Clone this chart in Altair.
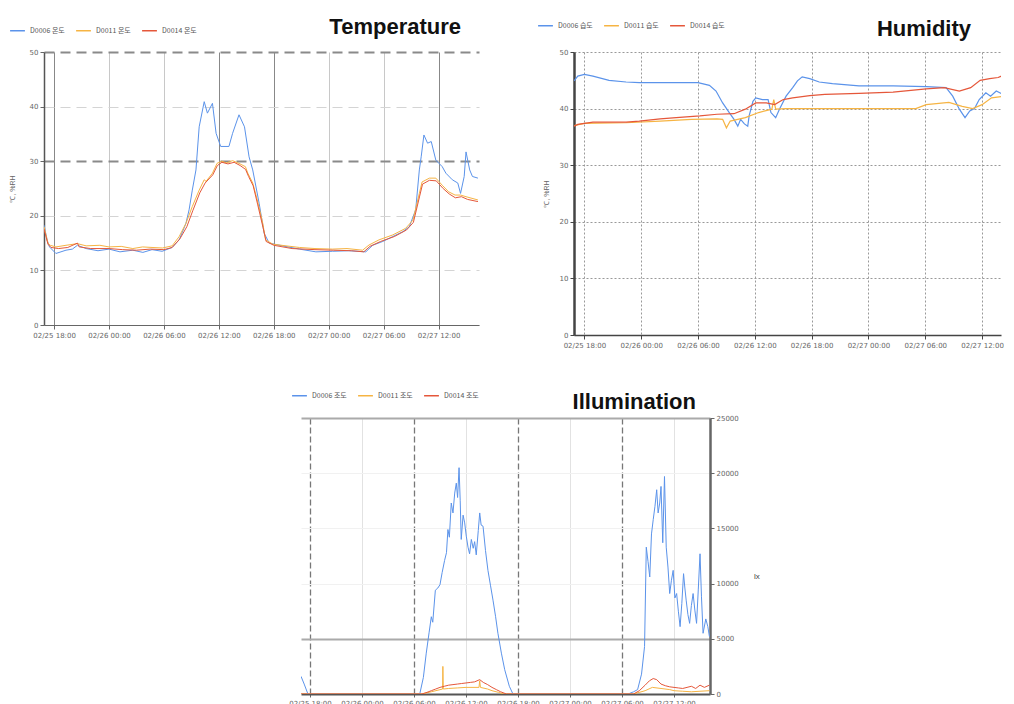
import altair as alt
import pandas as pd

YEAR = 2020

# ---------------- Temperature (°C) ----------------
TEMP_NAMES = ["D0006 온도", "D0011 온도", "D0014 온도"]
TEMP_D0006 = [("02-25 16:54",18.3),("02-25 17:15",15.5),("02-25 17:30",14.3),("02-25 18:12",13.1),("02-25 19:18",13.7),
    ("02-25 20:00",13.9),("02-25 20:33",14.6),("02-25 21:30",14.0),("02-25 22:48",13.6),("02-26 00:00",13.9),
    ("02-26 01:12",13.4),("02-26 02:36",13.7),("02-26 03:42",13.3),("02-26 04:42",13.8),("02-26 05:48",13.5),
    ("02-26 06:54",14.2),("02-26 07:40",15.6),("02-26 08:24",18.6),("02-26 08:45",21.1),("02-26 09:06",24.7),
    ("02-26 09:30",28.4),("02-26 09:51",36.3),("02-26 10:24",40.9),("02-26 10:45",38.8),("02-26 11:18",40.6),
    ("02-26 11:42",35.1),("02-26 12:12",32.7),("02-26 13:06",32.7),("02-26 13:30",35.1),("02-26 14:12",38.5),
    ("02-26 14:48",36.3),("02-26 15:18",30.8),("02-26 15:42",28.4),("02-26 16:24",22.3),("02-26 16:57",16.8),
    ("02-26 17:30",15.0),("02-26 18:57",14.5),("02-26 20:48",13.9),("02-26 22:36",13.4),("02-27 00:24",13.5),
    ("02-27 02:12",13.6),("02-27 04:03",13.4),("02-27 04:48",14.6),("02-27 05:54",15.3),("02-27 07:00",16.2),
    ("02-27 08:06",17.1),("02-27 08:48",18.0),("02-27 09:30",21.1),("02-27 09:54",28.4),("02-27 10:06",30.8),
    ("02-27 10:24",34.8),("02-27 10:48",33.3),("02-27 11:12",33.6),("02-27 11:42",30.2),("02-27 12:24",29.0),
    ("02-27 12:48",27.8),("02-27 13:30",26.6),("02-27 14:06",26.0),("02-27 14:24",24.1),("02-27 14:48",27.2),
    ("02-27 15:00",31.7),("02-27 15:24",28.4),("02-27 15:42",27.2),("02-27 16:18",26.9)]
TEMP_D0011 = [("02-25 16:54",18.0),("02-25 17:20",15.0),("02-25 17:35",14.6),("02-25 18:12",14.3),("02-25 19:18",14.6),
    ("02-25 20:33",14.9),("02-25 21:30",14.5),("02-25 23:00",14.6),("02-26 00:00",14.3),("02-26 01:20",14.4),
    ("02-26 02:36",14.0),("02-26 03:40",14.3),("02-26 04:42",14.2),("02-26 05:50",14.1),("02-26 06:54",14.5),
    ("02-26 07:40",16.2),("02-26 08:24",18.6),("02-26 09:06",21.7),("02-26 09:51",24.7),("02-26 10:24",26.6),
    ("02-26 10:36",26.3),("02-26 11:18",27.8),("02-26 11:48",29.6),("02-26 12:18",30.0),("02-26 12:50",29.7),
    ("02-26 13:30",30.1),("02-26 14:12",29.6),("02-26 14:54",29.0),("02-26 15:10",27.8),("02-26 15:42",26.0),
    ("02-26 16:12",22.9),("02-26 16:48",18.6),("02-26 17:06",15.6),("02-26 17:54",14.8),("02-26 19:20",14.5),
    ("02-26 20:48",14.2),("02-26 22:30",14.0),("02-27 00:24",13.9),("02-27 02:00",14.0),("02-27 03:42",13.7),
    ("02-27 04:24",14.65),("02-27 05:30",15.6),("02-27 07:00",16.5),("02-27 08:24",17.7),("02-27 09:12",19.2),
    ("02-27 09:54",24.1),("02-27 10:12",26.2),("02-27 11:00",26.9),("02-27 11:42",26.9),("02-27 12:24",25.6),
    ("02-27 13:06",24.4),("02-27 13:48",23.8),("02-27 14:24",23.8),("02-27 15:00",23.5),("02-27 16:18",22.9)]
TEMP_D0014 = [("02-25 16:54",17.6),("02-25 17:20",14.8),("02-25 17:40",14.2),("02-25 18:30",14.0),("02-25 19:30",14.2),
    ("02-25 20:33",15.0),("02-25 20:45",14.3),("02-25 22:00",14.0),("02-26 00:00",14.0),("02-26 01:30",13.8),
    ("02-26 03:00",13.7),("02-26 04:30",13.9),("02-26 06:00",13.8),("02-26 06:54",14.2),("02-26 07:45",15.8),
    ("02-26 08:30",18.0),("02-26 09:10",21.0),("02-26 09:55",24.2),("02-26 10:30",26.0),("02-26 11:20",27.5),
    ("02-26 11:50",29.2),("02-26 12:20",29.8),("02-26 13:00",29.5),("02-26 13:40",29.8),("02-26 14:20",29.2),
    ("02-26 14:55",28.5),("02-26 15:15",27.2),("02-26 15:45",25.5),("02-26 16:15",22.0),("02-26 16:50",17.8),
    ("02-26 17:10",15.3),("02-26 18:00",14.6),("02-26 20:00",14.0),("02-26 22:30",13.8),("02-27 00:30",13.7),
    ("02-27 02:30",13.6),("02-27 03:50",13.4),("02-27 04:30",14.4),("02-27 05:40",15.3),("02-27 07:10",16.2),
    ("02-27 08:30",17.4),("02-27 09:15",18.8),("02-27 09:56",23.6),("02-27 10:15",25.8),("02-27 11:00",26.5),
    ("02-27 11:45",26.4),("02-27 12:30",25.0),("02-27 13:10",24.0),("02-27 13:50",23.3),("02-27 14:30",23.5),
    ("02-27 15:10",23.0),("02-27 16:18",22.6)]

# ---------------- Humidity (%) ----------------
HUM_NAMES = ["D0006 습도", "D0011 습도", "D0014 습도"]
HUM_D0006 = [("02-25 16:54",44.9),("02-25 17:18",45.75),("02-25 18:00",46.05),("02-25 18:54",45.75),("02-25 20:36",45.0),
    ("02-25 22:24",44.7),("02-25 23:48",44.6),("02-26 02:00",44.6),("02-26 06:00",44.6),("02-26 07:12",44.1),
    ("02-26 07:54",43.1),("02-26 08:36",41.0),("02-26 09:18",39.3),("02-26 09:48",38.1),("02-26 10:12",36.9),
    ("02-26 10:30",38.1),("02-26 10:54",37.3),("02-26 11:15",36.9),("02-26 11:24",38.7),("02-26 11:48",41.3),
    ("02-26 12:06",41.9),("02-26 12:48",41.6),("02-26 13:24",41.6),("02-26 13:42",39.3),("02-26 14:12",38.4),
    ("02-26 14:36",39.9),("02-26 15:18",42.2),("02-26 16:00",43.7),("02-26 16:30",44.9),("02-26 17:00",45.6),
    ("02-26 17:48",45.3),("02-26 18:48",44.7),("02-26 20:12",44.4),("02-26 23:00",44.0),("02-27 02:36",44.0),
    ("02-27 06:06",43.9),("02-27 08:12",43.7),("02-27 08:54",42.2),("02-27 09:36",39.9),("02-27 10:12",38.4),
    ("02-27 10:42",39.6),("02-27 11:12",40.0),("02-27 11:42",41.6),("02-27 12:24",42.8),("02-27 12:54",42.2),
    ("02-27 13:30",43.1),("02-27 14:06",42.6),("02-27 14:42",39.9)]
HUM_D0011 = [("02-25 16:54",37.0),("02-25 18:00",37.4),("02-25 22:24",37.5),("02-26 02:00",37.8),("02-26 05:18",38.1),
    ("02-26 08:00",38.2),("02-26 08:36",38.1),("02-26 09:00",36.6),("02-26 09:24",37.8),("02-26 11:00",38.4),
    ("02-26 12:24",39.3),("02-26 13:48",39.9),("02-26 14:00",41.6),("02-26 14:12",39.9),("02-26 15:18",40.0),
    ("02-27 05:00",40.0),("02-27 06:06",40.7),("02-27 08:30",41.1),("02-27 09:54",40.4),("02-27 11:00",40.0),
    ("02-27 12:00",40.7),("02-27 13:00",41.9),("02-27 14:24",42.2)]
HUM_D0014 = [("02-25 16:54",36.9),("02-25 17:18",37.2),("02-25 18:00",37.4),("02-25 18:54",37.6),("02-25 22:24",37.6),
    ("02-25 23:48",37.8),("02-26 02:00",38.2),("02-26 03:42",38.4),("02-26 06:12",38.7),("02-26 08:00",39.0),
    ("02-26 09:48",39.1),("02-26 11:00",39.9),("02-26 12:06",41.0),("02-26 13:12",41.0),("02-26 14:06",40.7),
    ("02-26 15:00",41.6),("02-26 16:00",41.9),("02-26 17:48",42.3),("02-26 19:24",42.5),("02-26 23:00",42.7),
    ("02-27 02:36",42.9),("02-27 06:06",43.5),("02-27 08:00",43.7),("02-27 09:36",43.1),("02-27 10:48",43.7),
    ("02-27 11:48",45.0),("02-27 12:48",45.3),("02-27 13:42",45.5),("02-27 14:24",46.0)]

# ---------------- Illumination (lx) ----------------
ILL_NAMES = ["D0006 조도", "D0011 조도", "D0014 조도"]
ILL_D0006 = [("02-25 16:58",1600),("02-25 17:20",900),("02-25 17:46",0),("02-26 06:40",0),("02-26 07:05",1500),
    ("02-26 07:25",3700),("02-26 07:45",5600),("02-26 08:00",7000),("02-26 08:10",6500),("02-26 08:28",9400),
    ("02-26 08:45",9600),("02-26 09:00",9900),("02-26 09:15",11000),("02-26 09:32",12100),("02-26 09:45",12800),
    ("02-26 09:55",14900),("02-26 10:05",14200),("02-26 10:18",17300),("02-26 10:30",16400),("02-26 10:42",18200),
    ("02-26 10:53",19100),("02-26 11:02",17800),("02-26 11:12",20500),("02-26 11:20",17500),("02-26 11:27",14000),
    ("02-26 11:40",16200),("02-26 11:51",15500),("02-26 12:02",14300),("02-26 12:14",13300),("02-26 12:25",12700),
    ("02-26 12:37",14000),("02-26 12:50",13200),("02-26 13:00",13800),("02-26 13:11",12600),("02-26 13:25",14800),
    ("02-26 13:35",16400),("02-26 13:45",15300),("02-26 13:58",15200),("02-26 14:15",13000),("02-26 14:32",11200),
    ("02-26 14:50",9800),("02-26 15:07",8500),("02-26 15:25",7000),("02-26 15:41",5500),("02-26 16:05",3700),
    ("02-26 16:28",2200),("02-26 17:00",700),("02-26 17:25",0),("02-27 06:42",0),("02-27 07:20",200),
    ("02-27 07:48",400),("02-27 08:15",1800),("02-27 08:36",4300),("02-27 08:48",13300),("02-27 09:00",12000),
    ("02-27 09:12",10600),("02-27 09:24",14500),("02-27 09:36",15800),("02-27 09:48",17000),("02-27 10:00",18500),
    ("02-27 10:10",16400),("02-27 10:21",17300),("02-27 10:30",18800),("02-27 10:42",13700),("02-27 10:54",19700),
    ("02-27 11:06",13300),("02-27 11:18",11500),("02-27 11:30",9100),("02-27 11:42",10300),("02-27 11:54",11200),
    ("02-27 12:06",8700),("02-27 12:18",9100),("02-27 12:30",7500),("02-27 12:42",6100),("02-27 12:54",8200),
    ("02-27 13:06",10900),("02-27 13:15",9600),("02-27 13:24",8500),("02-27 13:36",7200),("02-27 13:48",6400),
    ("02-27 14:00",8000),("02-27 14:12",9100),("02-27 14:24",7600),("02-27 14:36",6400),("02-27 14:48",9500),
    ("02-27 15:00",12700),("02-27 15:10",8800),("02-27 15:21",5500),("02-27 15:40",6800),("02-27 15:54",6100),
    ("02-27 16:05",5200)]
ILL_D0011 = [("02-25 16:58",0),("02-26 06:54",0),("02-26 08:00",200),("02-26 09:18",450),("02-26 09:20",2500),
    ("02-26 09:23",450),("02-26 10:00",500),("02-26 11:00",550),("02-26 12:00",600),("02-26 13:30",600),
    ("02-26 13:35",1200),("02-26 13:40",600),("02-26 14:30",450),("02-26 15:00",300),("02-26 15:45",150),
    ("02-26 16:20",0),("02-27 07:20",0),("02-27 08:40",300),("02-27 09:30",600),("02-27 10:30",500),
    ("02-27 11:30",400),("02-27 12:00",300),("02-27 13:00",250),("02-27 14:00",200),("02-27 15:00",250),
    ("02-27 16:05",300)]
ILL_D0014 = [("02-25 16:58",0),("02-26 06:54",0),("02-26 07:30",150),("02-26 08:00",300),("02-26 08:30",450),
    ("02-26 09:00",600),("02-26 09:30",700),("02-26 10:00",800),("02-26 10:30",850),("02-26 11:00",900),
    ("02-26 11:30",950),("02-26 12:00",1000),("02-26 12:30",1050),("02-26 13:00",1100),("02-26 13:35",1300),
    ("02-26 14:00",1050),("02-26 14:30",850),("02-26 15:00",600),("02-26 15:30",400),("02-26 16:00",200),
    ("02-26 16:40",0),("02-27 07:20",0),("02-27 08:00",300),("02-27 08:40",800),("02-27 09:10",1200),
    ("02-27 09:36",1400),("02-27 10:00",1300),("02-27 10:30",900),("02-27 11:00",750),("02-27 11:30",650),
    ("02-27 12:00",600),("02-27 12:30",550),("02-27 13:00",500),("02-27 13:30",600),("02-27 14:00",700),
    ("02-27 14:30",500),("02-27 15:00",800),("02-27 15:30",600),("02-27 16:05",800)]

TICKS = ["02-25 18:00","02-26 00:00","02-26 06:00","02-26 12:00","02-26 18:00","02-27 00:00","02-27 06:00","02-27 12:00"]
TEMP_Y_TICKS = [0, 10, 20, 30, 40, 50]
HUM_Y_TICKS = [0, 10, 20, 30, 40, 50]
ILL_Y_TICKS = [0, 5000, 10000, 15000, 20000, 25000]
COLORS = ["#5b93ea", "#f6b443", "#e5573a"]


def iso(s):
    md, hm = s.split(" ")
    return f"{YEAR}-{md}T{hm}:00"


def dt(s):
    md, hm = s.split(" ")
    m, d = md.split("-")
    h, mi = hm.split(":")
    return alt.DateTime(year=YEAR, month=int(m), date=int(d), hours=int(h), minutes=int(mi))


def frame(names, series):
    rows = []
    for n, ser in zip(names, series):
        for t, v in ser:
            rows.append({"t": iso(t), "v": v, "s": n})
    return pd.DataFrame(rows)


LBL = dict(labelFontSize=7, labelColor="#666", labelFont="DejaVu Sans")


def legend(x, y):
    return alt.Legend(orient="none", legendX=x, legendY=y, direction="horizontal", title=None,
                      symbolType="stroke", symbolSize=220, symbolStrokeWidth=1.5,
                      labelFontSize=7, labelColor="#555", labelFont="Noto Sans CJK KR",
                      columnPadding=8, symbolOffset=0)


def title(text, dx, offset):
    return alt.TitleParams(text=text, anchor="end", frame="group", dx=dx, offset=offset,
                           fontSize=22, fontWeight="bold", color="#111",
                           font="Liberation Sans")


# Temperature chart
temp = alt.Chart(frame(TEMP_NAMES, [TEMP_D0006, TEMP_D0011, TEMP_D0014])).mark_line(strokeWidth=1, clip=True).encode(
    x=alt.X("t:T", scale=alt.Scale(domain=[dt("02-25 16:54"), dt("02-27 16:25")]),
            axis=alt.Axis(values=[dt(t) for t in TICKS], format="%m/%d %H:%M", title=None, labelAngle=0,
                          grid=True, gridColor={"condition": {"test": "hours(datum.value) >= 12", "value": "#888"}, "value": "#c8c8c8"},
                          domainColor="#666", tickColor="#666", tickSize=4, **LBL)),
    y=alt.Y("v:Q", scale=alt.Scale(domain=[0, 50]),
            axis=alt.Axis(values=TEMP_Y_TICKS, title="℃, %RH", titleFontSize=7, titleFontWeight="normal",
                          titleColor="#666", titlePadding=14,
                          grid=True, gridDash=[10, 6],
                          gridColor={"condition": {"test": "datum.value == 50 || datum.value == 30", "value": "#8a8a8a"}, "value": "#d4d4d4"},
                          gridWidth={"condition": {"test": "datum.value == 50 || datum.value == 30", "value": 2}, "value": 1.2},
                          domainColor="#555", domainWidth=1.5, tickColor="#666", tickSize=4, **LBL)),
    color=alt.Color("s:N", scale=alt.Scale(domain=TEMP_NAMES, range=COLORS), legend=legend(-35, -30)),
).properties(width=435, height=273, title=title("Temperature", -18, -17))

# Humidity chart
hum = alt.Chart(frame(HUM_NAMES, [HUM_D0006, HUM_D0011, HUM_D0014])).mark_line(strokeWidth=1.2, clip=True).encode(
    x=alt.X("t:T", scale=alt.Scale(domain=[dt("02-25 16:54"), dt("02-27 14:00")]),
            axis=alt.Axis(values=[dt(t) for t in TICKS], format="%m/%d %H:%M", title=None, labelAngle=0,
                          grid=True, gridDash=[2, 2], gridColor="#999",
                          domainColor="#444", domainWidth=1.5, tickColor="#444", tickSize=4, **LBL)),
    y=alt.Y("v:Q", scale=alt.Scale(domain=[0, 50]),
            axis=alt.Axis(values=HUM_Y_TICKS, title="℃, %RH", titleFontSize=7, titleFontWeight="normal",
                          titleColor="#666", titlePadding=10,
                          grid=True, gridDash=[2, 2], gridColor="#999",
                          domainColor="#444", domainWidth=2.5, tickColor="#444", tickSize=4, **LBL)),
    color=alt.Color("s:N", scale=alt.Scale(domain=HUM_NAMES, range=COLORS), legend=legend(-37, -35)),
).properties(width=427, height=283, title=title("Humidity", -30, -24))

# Illumination chart
ill = alt.Chart(frame(ILL_NAMES, [ILL_D0006, ILL_D0011, ILL_D0014])).mark_line(strokeWidth=1, clip=True).encode(
    x=alt.X("t:T", scale=alt.Scale(domain=[dt("02-25 16:58"), dt("02-27 16:09")]),
            axis=alt.Axis(values=[dt(t) for t in TICKS], format="%m/%d %H:%M", title=None, labelAngle=0,
                          grid=True,
                          gridColor={"condition": {"test": "hours(datum.value) == 6 || hours(datum.value) == 18", "value": "#777"}, "value": "#e2e2e2"},
                          gridDash={"condition": {"test": "hours(datum.value) == 6 || hours(datum.value) == 18", "value": [6, 3]}, "value": []},
                          gridWidth={"condition": {"test": "hours(datum.value) == 6 || hours(datum.value) == 18", "value": 1.3}, "value": 1},
                          domainColor="#555", domainWidth=2, tickColor="#666", tickSize=3, **LBL)),
    y=alt.Y("v:Q", scale=alt.Scale(domain=[0, 25000]),
            axis=alt.Axis(orient="right", values=ILL_Y_TICKS, format="d", title="lx", titleAngle=0,
                          titleFontSize=8, titleFontWeight="normal", titleColor="#444", titlePadding=18,
                          titleY=162,
                          grid=True,
                          gridColor={"condition": {"test": "datum.value == 5000 || datum.value == 25000", "value": "#aaa"}, "value": "#f1f1f1"},
                          gridWidth={"condition": {"test": "datum.value == 5000 || datum.value == 25000", "value": 2}, "value": 1},
                          domainColor="#666", domainWidth=2.5, tickColor="#666", tickSize=4, **LBL)),
    color=alt.Color("s:N", scale=alt.Scale(domain=ILL_NAMES, range=COLORS), legend=legend(-10, -31)),
).properties(width=409, height=276, title=title("Illumination", -14, -27))

spacer = alt.Chart(pd.DataFrame({"a": [0]})).mark_point(opacity=0).encode(
    x=alt.value(0), y=alt.value(0)).properties(width=244, height=10)

top = alt.hconcat(temp, hum, spacing=58).resolve_scale(color="independent")
bottom = alt.hconcat(spacer, ill, spacing=0).resolve_scale(color="independent")
chart = alt.vconcat(top, bottom, spacing=39).resolve_scale(color="independent").properties(
    padding={"left": 0, "top": 8, "right": 0, "bottom": 0},
    background="white",
).configure_view(strokeWidth=0)

chart.save("out.html", embed_options={"renderer": "svg", "actions": False})
